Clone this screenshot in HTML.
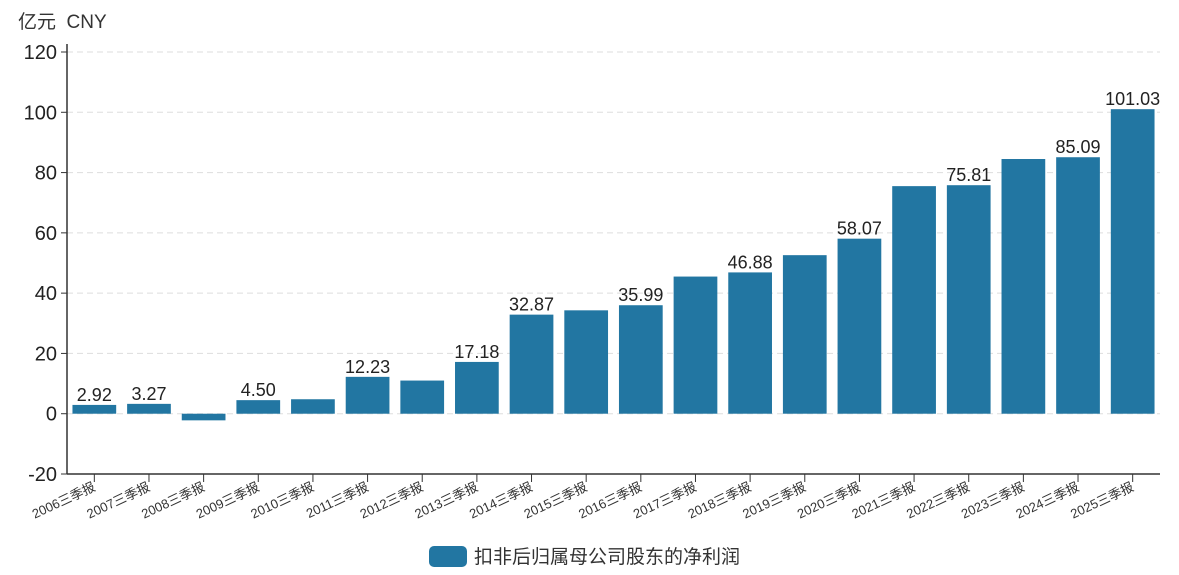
<!DOCTYPE html>
<html><head><meta charset="utf-8">
<style>
body{margin:0;background:#fff;}
svg text{font-family:"Liberation Sans","Noto Sans CJK SC",sans-serif;}
</style></head>
<body>
<svg id="chart" width="1179" height="570" xmlns="http://www.w3.org/2000/svg">
<text x="18" y="28" font-size="19" fill="#333">亿元&#160;&#160;CNY</text>
<g id="grid"></g>
<g id="bars"></g>
<g id="axes"></g>
<g>
<rect x="429" y="546" width="38" height="21" rx="5" fill="#2276a2"></rect>
<text x="474" y="563" font-size="19" fill="#333">扣非后归属母公司股东的净利润</text>
</g>
</svg>
<script>
const categories=["2006三季报","2007三季报","2008三季报","2009三季报","2010三季报","2011三季报","2012三季报","2013三季报","2014三季报","2015三季报","2016三季报","2017三季报","2018三季报","2019三季报","2020三季报","2021三季报","2022三季报","2023三季报","2024三季报","2025三季报"];
const values=[2.92,3.27,-2.2,4.50,4.8,12.23,11.0,17.18,32.87,34.3,35.99,45.5,46.88,52.6,58.07,75.5,75.81,84.5,85.09,101.03];
const shownLabels=["2.92","3.27",null,"4.50",null,"12.23",null,"17.18","32.87",null,"35.99",null,"46.88",null,"58.07",null,"75.81",null,"85.09","101.03"];
const yTicks=[-20,0,20,40,60,80,100,120];
const NS="http://www.w3.org/2000/svg";
const x0=67,x1=1160,yTop=52,yBot=474,vMin=-20,vMax=120;
const band=(x1-x0)/categories.length;
const y=v=>yBot-(v-vMin)/(vMax-vMin)*(yBot-yTop);
const xc=i=>x0+band*(i+0.5);
function mk(tag,attrs,parent,txt){const e=document.createElementNS(NS,tag);for(const k in attrs)e.setAttribute(k,attrs[k]);if(txt!=null)e.textContent=txt;document.getElementById(parent).appendChild(e);return e;}
yTicks.forEach(t=>{
 if(t!==vMin){const g=mk('line',{x1:x0,x2:x1,y1:y(t),y2:y(t),stroke:'#ddd','stroke-dasharray':'6,4'},'grid');
 
 }
 const tk=mk('line',{x1:x0-6,x2:x0,y1:y(t),y2:y(t),stroke:'#333'},'axes');
 
 
 const tl=mk('text',{x:x0-10,y:y(t)+7,'text-anchor':'end','font-size':'20',fill:'#222'},'axes',t);
 
 
});
const bw=band*0.8;
values.forEach((v,i)=>{
 const top=Math.min(y(v),y(0)),h=Math.abs(y(v)-y(0));
 const r=mk('rect',{x:xc(i)-bw/2,y:top,width:bw,height:h,fill:'#2276a2'},'bars');
 
 
 if(shownLabels[i]){const l=mk('text',{x:xc(i),y:y(v)-4,'text-anchor':'middle','font-size':'18',fill:'#222'},'bars',shownLabels[i]);
 
 }
 const tk=mk('line',{x1:xc(i),x2:xc(i),y1:yBot,y2:yBot+8,stroke:'#333'},'axes');
 
 
 const xl=mk('text',{x:xc(i)+2,y:yBot+16,'text-anchor':'end','font-size':'13',fill:'#333',transform:`rotate(-25 ${xc(i)+2} ${yBot+16})`},'axes',categories[i]);
 
 
});
const ya=mk('line',{x1:x0,x2:x0,y1:yTop-8,y2:yBot,stroke:'#333','stroke-width':1.5},'axes');


const xa=mk('line',{x1:x0,x2:x1,y1:yBot,y2:yBot,stroke:'#333','stroke-width':1.5},'axes');


</script>
</body></html>
